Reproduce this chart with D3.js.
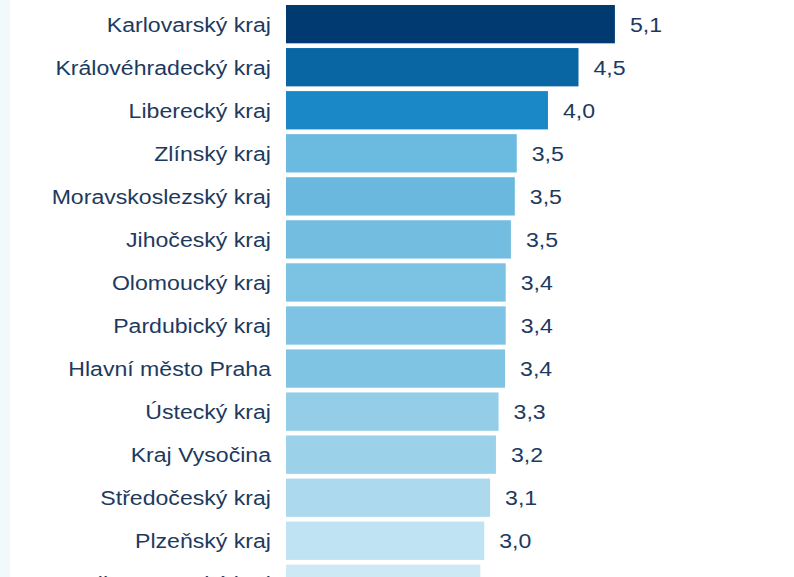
<!DOCTYPE html>
<html>
<head>
<meta charset="utf-8">
<script src="https://cdn.jsdelivr.net/npm/d3@7/dist/d3.min.js"></script>
<style>
  html, body { margin: 0; padding: 0; background: #ffffff; }
  svg { display: block; }
</style>
</head>
<body>
<svg id="chart" width="794" height="577"></svg>
<script>
const regions = [
  "Karlovarský kraj", "Královéhradecký kraj", "Liberecký kraj", "Zlínský kraj",
  "Moravskoslezský kraj", "Jihočeský kraj", "Olomoucký kraj", "Pardubický kraj",
  "Hlavní město Praha", "Ústecký kraj", "Kraj Vysočina", "Středočeský kraj",
  "Plzeňský kraj", "Jihomoravský kraj"
];
const values = [5.06, 4.50, 4.03, 3.55, 3.52, 3.46, 3.38, 3.38, 3.37, 3.27, 3.23, 3.14, 3.05, 2.99];
const valueLabels = ["5,1", "4,5", "4,0", "3,5", "3,5", "3,5", "3,4", "3,4", "3,4", "3,3", "3,2", "3,1", "3,0", "3,0"];
const barColors = ["#003a70", "#0a66a3", "#1a88c6", "#6bbadf", "#6ab8dd", "#72bde0", "#7cc2e2",
  "#7ec3e3", "#80c4e3", "#93cde7", "#9bd1e9", "#acd9ee", "#c0e3f3", "#cde9f6"];

const svg = d3.select("#chart");
const W = 794, H = 577;

svg.append("rect").attr("x", 0).attr("y", 0).attr("width", W).attr("height", H).attr("fill", "#ffffff");
svg.append("rect").attr("x", 0).attr("y", 0).attr("width", 10).attr("height", H).attr("fill", "#f2f9fc");

const step = 43.05, pad = 0.11;
const y0 = 5 - step * pad / 2;
const y = d3.scaleBand().domain(regions).range([y0, y0 + step * regions.length]).paddingInner(pad).paddingOuter(pad / 2);
const x = d3.scaleLinear().domain([0, 6]).range([286, 286 + 390]);

const data = regions.map((r, i) => ({ r, v: values[i], lab: valueLabels[i], c: barColors[i] }));

const font = "'Liberation Sans', Arial, sans-serif";
const textColor = "#1d3a5e";
const fs = 21, sx = 1.1;

svg.append("g").selectAll("rect").data(data).join("rect")
  .attr("x", x(0))
  .attr("y", d => y(d.r))
  .attr("width", d => x(d.v) - x(0))
  .attr("height", y.bandwidth())
  .attr("fill", d => d.c);

const yAxis = d3.axisLeft(y).tickSize(0).tickPadding(15);
const ga = svg.append("g").attr("transform", `translate(${x(0)},0)`).call(yAxis);
ga.select(".domain").remove();
ga.selectAll("text")
  .attr("x", 0)
  .attr("transform", `translate(-15,0) scale(${sx},1)`)
  .attr("font-family", font).attr("font-size", fs).attr("fill", textColor).attr("dy", "0.35em");

svg.append("g").selectAll("text").data(data).join("text")
  .attr("transform", d => `translate(${x(d.v) + 15},${y(d.r) + y.bandwidth() / 2}) scale(${sx},1)`)
  .attr("dy", "0.35em")
  .attr("font-family", font)
  .attr("font-size", fs)
  .attr("fill", textColor)
  .text(d => d.lab);
</script>
</body>
</html>
